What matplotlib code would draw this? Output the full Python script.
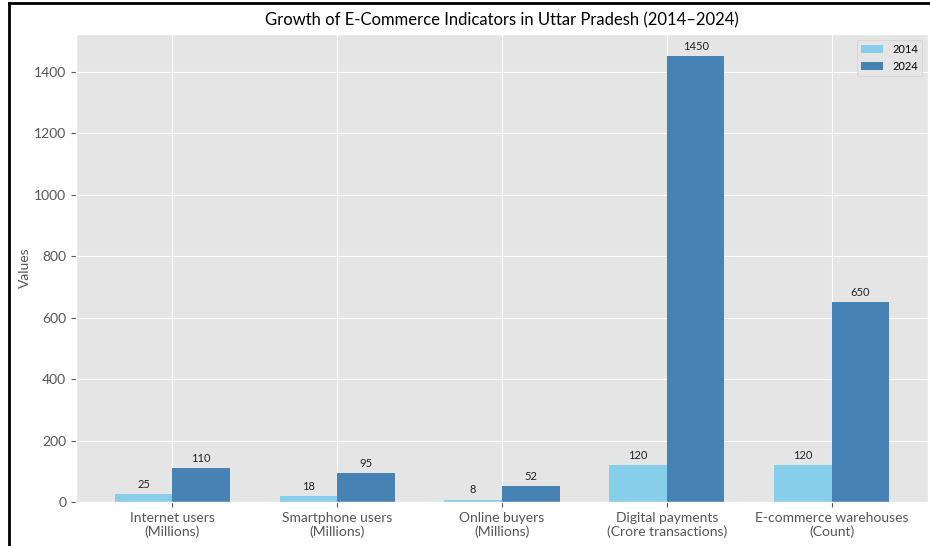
import matplotlib
matplotlib.use('Agg')
import matplotlib.pyplot as plt
import numpy as np

plt.style.use('ggplot')
plt.rcParams['font.family'] = ['Lato', 'DejaVu Sans']

categories = ['Internet users\n(Millions)', 'Smartphone users\n(Millions)', 'Online buyers\n(Millions)',
              'Digital payments\n(Crore transactions)', 'E-commerce warehouses\n(Count)']
values_2014 = [25, 18, 8, 120, 120]
values_2024 = [110, 95, 52, 1450, 650]

x = np.arange(len(categories))
w = 0.35

fig = plt.figure(figsize=(9.3, 5.46), dpi=100)
ax = fig.add_axes([76 / 930, 44 / 546, 852 / 930, 468 / 546])

b1 = ax.bar(x - w / 2, values_2014, w, color='skyblue', label='2014')
b2 = ax.bar(x + w / 2, values_2024, w, color='steelblue', label='2024')
ax.bar_label(b1, padding=3, fontsize=8, color='#222222')
ax.bar_label(b2, padding=3, fontsize=8, color='#222222')

ax.set_xticks(x)
ax.set_xticklabels(categories, fontsize=10, color='#555555')
ax.tick_params(axis='y', labelsize=10, labelcolor='#555555')
ax.set_ylabel('Values', fontsize=10, color='#555555', labelpad=2)
ax.set_title('Growth of E-Commerce Indicators in Uttar Pradesh (2014\u20132024)', fontsize=12, color='black')
ax.legend(fontsize=8, loc='upper right')

# 截圖外框
fig.add_artist(plt.Line2D([8.5 / 930, 8.5 / 930], [0, 1 - 3 / 546], color='black', lw=2, transform=fig.transFigure))
fig.add_artist(plt.Line2D([8.5 / 930, 1], [1 - 3 / 546, 1 - 3 / 546], color='black', lw=2, transform=fig.transFigure))

fig.savefig('out.png', dpi=100)
